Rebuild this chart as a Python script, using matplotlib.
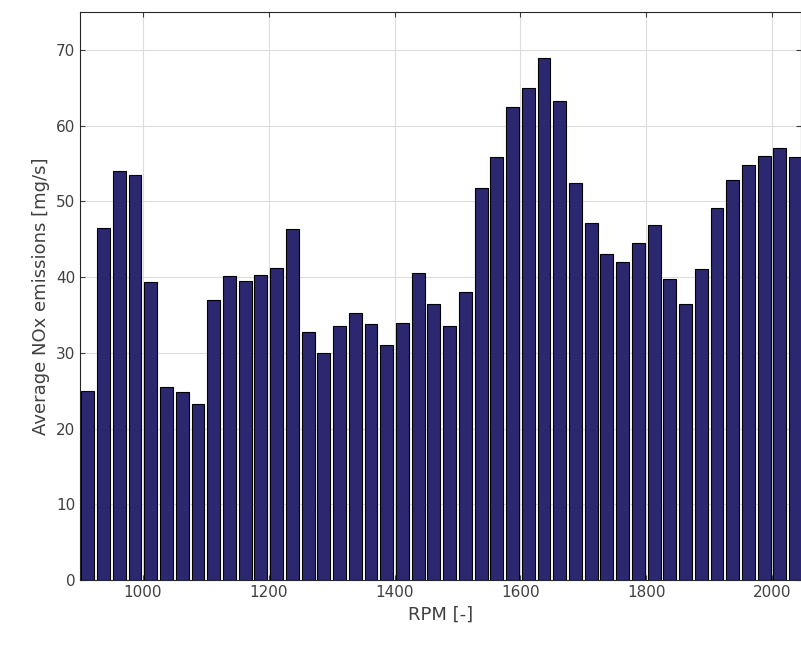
import numpy as np
import matplotlib
matplotlib.use("Agg")
import matplotlib.pyplot as plt

rpm = np.arange(912.5, 2050, 25)
nox = [25, 46.5, 54, 53.5, 39.3, 25.5, 24.8, 23.3, 37, 40.2, 39.5, 40.3,
       41.2, 46.3, 32.7, 30, 33.6, 35.3, 33.8, 31, 34, 40.6, 36.4, 33.6,
       38, 51.7, 55.9, 62.4, 65, 68.9, 63.2, 52.4, 47.1, 43, 42, 44.5,
       46.9, 39.7, 36.4, 41, 49.1, 52.8, 54.8, 56, 57, 55.8]

plt.rcParams["font.family"] = "DejaVu Sans"
fig = plt.figure(figsize=(8.01, 6.58), dpi=100)
ax = fig.add_axes([80 / 801, 78 / 658, 721 / 801, 568 / 658])

ax.bar(rpm, nox, width=20.5, color="#2c2870", edgecolor="black", linewidth=0.8, zorder=3)

ax.set_xlim(900, 2046)
ax.set_ylim(0, 75)
ax.set_xticks([1000, 1200, 1400, 1600, 1800, 2000])
ax.set_yticks(range(0, 71, 10))
ax.grid(True, color="#dcdcdc", linewidth=0.8, zorder=0)
ax.tick_params(direction="in", labelsize=11, colors="#404040", top=True, right=True)
for s in ax.spines.values():
    s.set_color("#262626")
    s.set_linewidth(0.8)
ax.set_xlabel("RPM [-]", fontsize=13, color="#404040")
ax.set_ylabel("Average NOx emissions [mg/s]", fontsize=13, color="#404040")

fig.savefig("out.png", dpi=100)
